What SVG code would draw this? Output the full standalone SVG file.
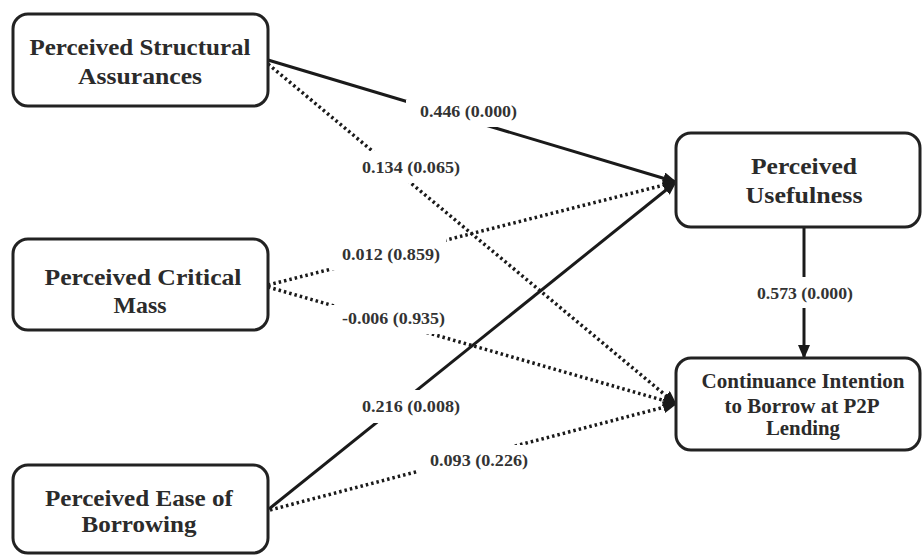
<svg xmlns="http://www.w3.org/2000/svg" width="922" height="556" viewBox="0 0 922 556">
<style>
.box{fill:#fff;stroke:#222;stroke-width:3}
.nt{font-family:"Liberation Serif",serif;font-weight:bold;font-size:23px;fill:#2b2b2b;text-anchor:middle}
.ct{font-size:20px}
.lt{font-family:"Liberation Serif",serif;font-weight:bold;font-size:16px;fill:#333;text-anchor:middle}
.solid{stroke:#1a1a1a;stroke-width:3;fill:none}
.dot{stroke:#1a1a1a;stroke-width:3.5;stroke-dasharray:2.5 3;fill:none}
.bg{fill:#fff}
</style>
<defs>
<marker id="ah" markerUnits="userSpaceOnUse" markerWidth="14" markerHeight="12" refX="13" refY="6" orient="auto">
<path d="M0,0 L14,6 L0,12 Z" fill="#1a1a1a"/>
</marker>
</defs>
<rect width="922" height="556" fill="#fff"/>
<g id="connectors">
<line class="solid" x1="268" y1="60" x2="676" y2="182" marker-end="url(#ah)"/>
<line class="dot" x1="268" y1="64" x2="676" y2="404" marker-end="url(#ah)"/>
<line class="dot" x1="268" y1="285" x2="676" y2="182" marker-end="url(#ah)"/>
<line class="dot" x1="268" y1="287" x2="676" y2="404" marker-end="url(#ah)"/>
<line class="solid" x1="269" y1="509" x2="676" y2="182" marker-end="url(#ah)"/>
<line class="dot" x1="270" y1="510" x2="676" y2="404" marker-end="url(#ah)"/>
<line class="solid" x1="804" y1="227" x2="804" y2="358" marker-end="url(#ah)"/>
</g>
<g id="labels">
<rect class="bg" x="406" y="100" width="124" height="27"/>
<text class="lt" x="468.5" y="117" textLength="97" lengthAdjust="spacingAndGlyphs">0.446 (0.000)</text>
<rect class="bg" x="360" y="151" width="108" height="32"/>
<text class="lt" x="411" y="173" textLength="98" lengthAdjust="spacingAndGlyphs">0.134 (0.065)</text>
<rect class="bg" x="330" y="238" width="116" height="32"/>
<text class="lt" x="391" y="260" textLength="98" lengthAdjust="spacingAndGlyphs">0.012 (0.859)</text>
<rect class="bg" x="330" y="305" width="122" height="29"/>
<text class="lt" x="393.5" y="324" textLength="103" lengthAdjust="spacingAndGlyphs">-0.006 (0.935)</text>
<rect class="bg" x="355" y="390" width="111" height="33"/>
<text class="lt" x="411" y="412" textLength="98" lengthAdjust="spacingAndGlyphs">0.216 (0.008)</text>
<rect class="bg" x="418" y="445" width="122" height="33"/>
<text class="lt" x="479" y="466" textLength="98" lengthAdjust="spacingAndGlyphs">0.093 (0.226)</text>
<rect class="bg" x="750" y="277" width="110" height="31"/>
<text class="lt" x="805" y="299" textLength="96" lengthAdjust="spacingAndGlyphs">0.573 (0.000)</text>
</g>
<g id="psa">
<rect class="box" x="13" y="14" width="255" height="92" rx="15"/>
<text class="nt" x="140" y="55" textLength="221" lengthAdjust="spacingAndGlyphs">Perceived Structural</text>
<text class="nt" x="140" y="84" textLength="124" lengthAdjust="spacingAndGlyphs">Assurances</text>
</g>
<g id="pcm">
<rect class="box" x="13" y="239" width="255" height="91" rx="15"/>
<text class="nt" x="143" y="285" textLength="197" lengthAdjust="spacingAndGlyphs">Perceived Critical</text>
<text class="nt" x="140" y="313" textLength="53" lengthAdjust="spacingAndGlyphs">Mass</text>
</g>
<g id="peb">
<rect class="box" x="13" y="465" width="255" height="88" rx="15"/>
<text class="nt" x="139" y="506" textLength="188" lengthAdjust="spacingAndGlyphs">Perceived Ease of</text>
<text class="nt" x="139" y="532" textLength="115" lengthAdjust="spacingAndGlyphs">Borrowing</text>
</g>
<g id="pu">
<rect class="box" x="676" y="133" width="244" height="94" rx="15"/>
<text class="nt" x="804" y="174" textLength="106" lengthAdjust="spacingAndGlyphs">Perceived</text>
<text class="nt" x="804" y="203" textLength="117" lengthAdjust="spacingAndGlyphs">Usefulness</text>
</g>
<g id="ci">
<rect class="box" x="676" y="358" width="244" height="92" rx="15"/>
<text class="nt ct" x="803" y="388" textLength="203" lengthAdjust="spacingAndGlyphs">Continuance Intention</text>
<text class="nt ct" x="802" y="413" textLength="155" lengthAdjust="spacingAndGlyphs">to Borrow at P2P</text>
<text class="nt ct" x="803" y="435" textLength="74" lengthAdjust="spacingAndGlyphs">Lending</text>
</g>
</svg>
